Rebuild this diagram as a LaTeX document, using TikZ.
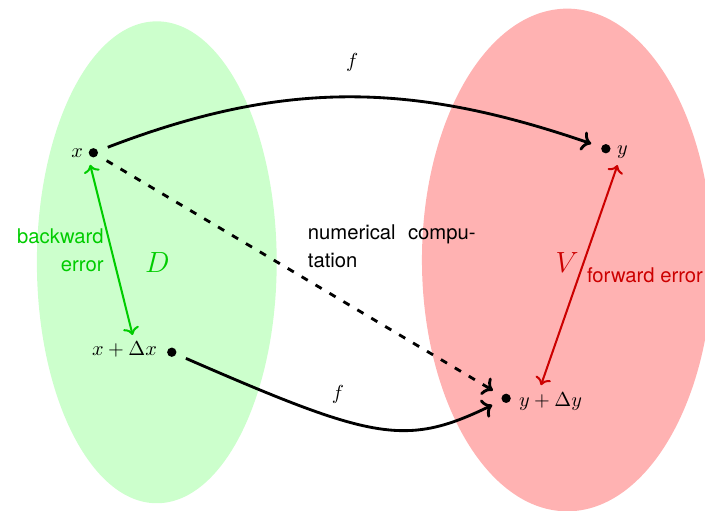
\documentclass[tikz,border=0pt]{standalone}
\usepackage{fontspec}
\setsansfont{TeX Gyre Heros}
\usepackage{tikz}
\usetikzlibrary{arrows.meta,calc}
\colorlet{domfill}{green!20}
\colorlet{imfill}{red!30}
\colorlet{bwd}{green!80!black}
\colorlet{fwd}{red!80!black}

\begin{document}
\begin{tikzpicture}[font=\sffamily\fontsize{10pt}{13.8pt}\selectfont,>=To,
  p/.style={circle,fill,inner sep=0pt,minimum size=4.6pt,outer sep=5.3pt},
  a/.style={->,line width=1.4pt},
  e/.style={<->,line width=1pt}]
\useasboundingbox (0,0) rectangle (12.23,8.85);
\fill[domfill] (2.72,4.30) ellipse (2.08 and 4.18);
\fill[imfill] (9.84,4.34) ellipse (2.52 and 4.36);
\node[text=bwd] (D) at (2.73,4.29) {\Large$D$};
\node[text=fwd] (V) at (9.84,4.29) {\Large$V$};
\node[p] (x)  at (1.62,6.20)  {};
\node[p] (y)  at (10.51,6.27) {};
\node[p] (xd) at (2.98,2.74)  {};
\node[p] (yd) at (8.78,1.94)  {};
\node (lx)  at (1.34,6.19)  {$x$};
\node (ly)  at (10.80,6.22) {$y$};
\node (lxd) at (2.16,2.78)  {$x+\Delta x$};
\node (lyd) at (9.55,1.89)  {$y+\Delta y$};
\node (f1) at (6.11,7.76) {$f$};
\node (f2) at (5.86,2.00) {$f$};
\draw[a] (x) to[out=21,in=161] (y);
\draw[a] (xd) .. controls (6.47,1.22) and (7.03,1.09) .. (yd);
\draw[a,dash pattern=on 3.5pt off 4.5pt] (x) -- (yd)
  node[midway,anchor=south west,text width=82.8pt,align=justify]
  {numerical compu-\linebreak tation};
\draw[e,bwd] (lx.south east) -- ([xshift=4pt]lxd.north)
  node[midway,left,align=right] {backward\\error};
\draw[e,fwd] ([xshift=-2.5pt]ly.south) -- ([xshift=-4.7pt]lyd.north)
  node[midway,right] {forward error};
\end{tikzpicture}
\end{document}
